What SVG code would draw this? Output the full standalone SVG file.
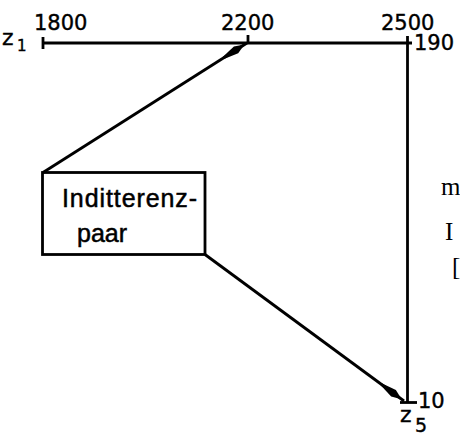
<svg xmlns="http://www.w3.org/2000/svg" width="460" height="437" viewBox="0 0 460 437">
  <style>
    .ln { stroke: #000; stroke-width: 2.8; fill: none; stroke-linecap: butt; }
    .num { font-family: "DejaVu Sans", "Liberation Sans", sans-serif; font-size: 21px; fill: #000; stroke: #000; stroke-width: 0.4; }
    .lbl { font-family: "Liberation Sans", Arial, sans-serif; font-size: 25px; fill: #000; stroke: #000; stroke-width: 0.5; }
    .ser { font-family: "Liberation Serif", "Times New Roman", serif; font-size: 25px; fill: #000; }
  </style>
  <defs>
    <marker id="lens" markerUnits="userSpaceOnUse" orient="auto" refX="0" refY="0" markerWidth="40" markerHeight="20" viewBox="-32 -8 40 16" overflow="visible">
      <path d="M-3,0 L-13,-4 L-28,-1.2 L-28,1.2 L-13,4 Z" fill="#000"/>
    </marker>
  </defs>
  <rect width="460" height="437" fill="#fff"/>

  <g id="axis">
    <line class="ln" x1="43" y1="43" x2="412" y2="43"/>
    <line class="ln" x1="43" y1="37" x2="43" y2="49"/>
    <line class="ln" x1="248" y1="35" x2="248" y2="43"/>
    <line class="ln" x1="407.5" y1="36" x2="407.5" y2="403"/>
    <line class="ln" x1="400" y1="402.5" x2="417" y2="402.5"/>
    <text class="num" x="34" y="30">1800</text>
    <text class="num" x="221" y="30">2200</text>
    <text class="num" x="381" y="30">2500</text>
    <text class="num" x="414" y="50">190</text>
    <text class="num" x="418" y="408">10</text>
    <text class="num" x="2" y="45" style="font-size:22px">z</text>
    <text class="num" x="17" y="51" style="font-size:15px">1</text>
    <text class="num" x="400" y="422" style="font-size:22px">z</text>
    <text class="num" x="415" y="432" style="font-size:19px">5</text>
  </g>

  <g id="node-pair">
    <rect class="ln" x="42.5" y="172.5" width="162.5" height="82" stroke-width="3.2"/>
    <text class="lbl" x="62" y="207" textLength="135" lengthAdjust="spacing">Inditterenz-</text>
    <text class="lbl" x="77" y="242">paar</text>
  </g>

  <g id="connectors">
    <line class="ln" x1="43" y1="172.5" x2="247" y2="43" marker-end="url(#lens)"/>
    <line class="ln" x1="205" y1="254.5" x2="404" y2="401" marker-end="url(#lens)"/>
  </g>

  <g id="margin">
    <text class="ser" x="441" y="195">m</text>
    <text class="ser" x="445" y="240">I</text>
    <text class="ser" x="452" y="275">[</text>
  </g>
</svg>
